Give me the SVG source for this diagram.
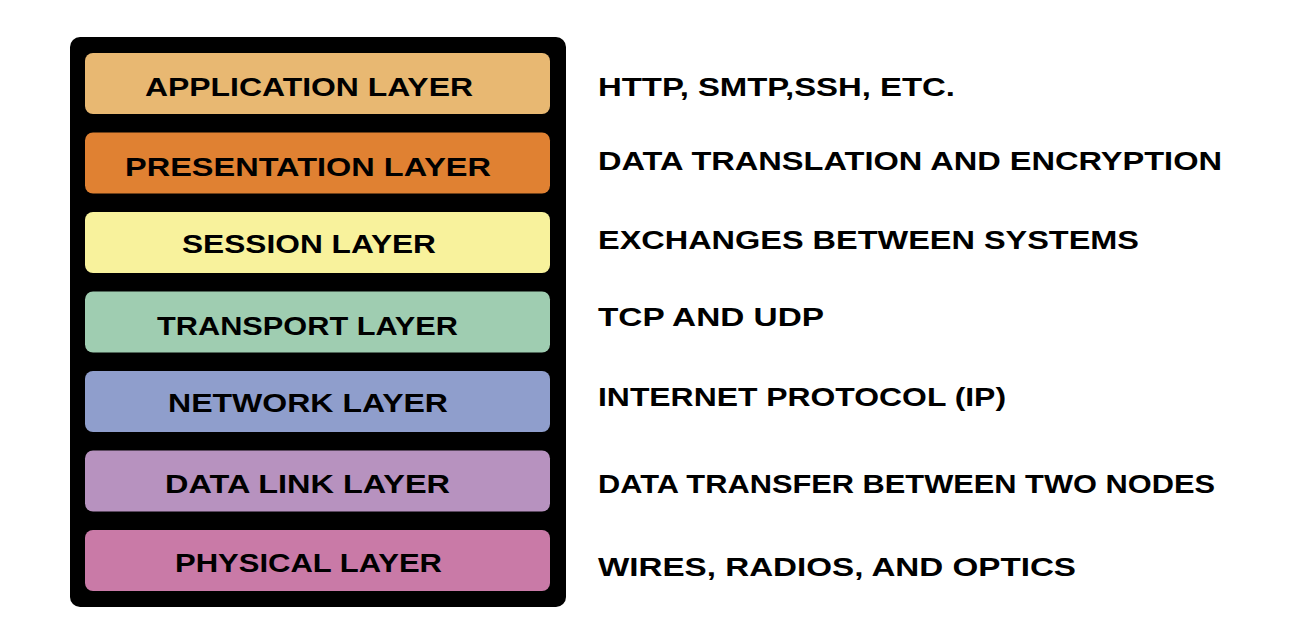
<svg xmlns="http://www.w3.org/2000/svg" width="1311" height="633" viewBox="0 0 1311 633">
<style>
.lbl{font-family:"Liberation Sans",Arial,sans-serif;font-weight:bold;font-size:25px;fill:#000000}
.layer{stroke:none}
</style>
<rect width="1311" height="633" fill="#ffffff"/>
<g id="stack">
<rect x="70" y="37" width="496" height="570" rx="10" fill="#000000"/>
</g>
<g id="application">
<rect class="layer" x="85" y="53" width="465" height="61" rx="8" fill="#E8B872"/>
<text class="lbl" x="145" y="96" textLength="328" lengthAdjust="spacingAndGlyphs">APPLICATION LAYER</text>
</g>
<g id="presentation">
<rect class="layer" x="85" y="132.5" width="465" height="61" rx="8" fill="#E08132"/>
<text class="lbl" x="125" y="176" textLength="366" lengthAdjust="spacingAndGlyphs">PRESENTATION LAYER</text>
</g>
<g id="session">
<rect class="layer" x="85" y="212" width="465" height="61" rx="8" fill="#F8F29C"/>
<text class="lbl" x="182" y="253" textLength="254" lengthAdjust="spacingAndGlyphs">SESSION LAYER</text>
</g>
<g id="transport">
<rect class="layer" x="85" y="291.5" width="465" height="61" rx="8" fill="#9FCDB1"/>
<text class="lbl" x="157" y="335" textLength="301" lengthAdjust="spacingAndGlyphs">TRANSPORT LAYER</text>
</g>
<g id="network">
<rect class="layer" x="85" y="371" width="465" height="61" rx="8" fill="#8F9ECC"/>
<text class="lbl" x="168" y="412" textLength="280" lengthAdjust="spacingAndGlyphs">NETWORK LAYER</text>
</g>
<g id="datalink">
<rect class="layer" x="85" y="450.5" width="465" height="61" rx="8" fill="#B792BF"/>
<text class="lbl" x="165" y="493" textLength="285" lengthAdjust="spacingAndGlyphs">DATA LINK LAYER</text>
</g>
<g id="physical">
<rect class="layer" x="85" y="530" width="465" height="61" rx="8" fill="#C97AA7"/>
<text class="lbl" x="175" y="572" textLength="267" lengthAdjust="spacingAndGlyphs">PHYSICAL LAYER</text>
</g>
<g id="descriptions">
<text class="lbl" x="598" y="96" textLength="357" lengthAdjust="spacingAndGlyphs">HTTP, SMTP,SSH, ETC.</text>
<text class="lbl" x="598" y="170" textLength="624" lengthAdjust="spacingAndGlyphs">DATA TRANSLATION AND ENCRYPTION</text>
<text class="lbl" x="598" y="249" textLength="541" lengthAdjust="spacingAndGlyphs">EXCHANGES BETWEEN SYSTEMS</text>
<text class="lbl" x="598" y="326" textLength="226" lengthAdjust="spacingAndGlyphs">TCP AND UDP</text>
<text class="lbl" x="598" y="406" textLength="408" lengthAdjust="spacingAndGlyphs">INTERNET PROTOCOL (IP)</text>
<text class="lbl" x="598" y="493" textLength="617" lengthAdjust="spacingAndGlyphs">DATA TRANSFER BETWEEN TWO NODES</text>
<text class="lbl" x="598" y="576" textLength="478" lengthAdjust="spacingAndGlyphs">WIRES, RADIOS, AND OPTICS</text>
</g>
<g id="connectors"></g>
</svg>
